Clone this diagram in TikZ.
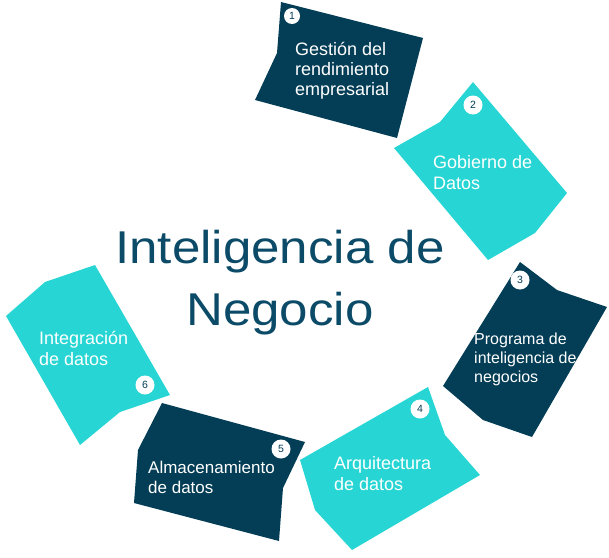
\documentclass[tikz,border=0pt]{standalone}
\usepackage{fontspec}
\setmainfont{Liberation Sans}
\newfontfamily\titlefont{Liberation Sans}[FakeStretch=1.11]
\definecolor{darkteal}{HTML}{043E56}
\definecolor{cyanish}{HTML}{27D6D4}
\definecolor{titlecol}{HTML}{0C4B68}
\begin{document}
\begin{tikzpicture}[x=1pt,y=-1pt,
  darkshape/.style={fill=darkteal,draw=none},
  cyanshape/.style={fill=cyanish,draw=none},
  label/.style={text=white,align=left,anchor=base west,inner sep=0pt,font=\fontsize{18}{20.5}\selectfont},
  numdot/.style={circle,fill=white,draw=none,inner sep=0pt,minimum size=19pt,text=darkteal,font=\fontsize{10.5}{10.5}\selectfont},
  title/.style={text=titlecol,align=center,inner sep=0pt,anchor=base,font=\titlefont\fontsize{46}{62}\selectfont}]
\useasboundingbox (0,0) rectangle (609,557);
% shapes
\fill[darkshape] (281,2) -- (423,38) -- (397,138) -- (255,100) -- (277,53) -- cycle;
\fill[cyanshape] (473,82) -- (567,193) -- (535,233) -- (488,260) -- (394,148) -- (440,122) -- cycle;
\fill[darkshape] (520,262) -- (557,290) -- (607,307) -- (532,437) -- (483,420) -- (443,386) -- cycle;
\fill[cyanshape] (428,387) -- (445,435) -- (480,475) -- (352,550) -- (315,510) -- (300,460) -- cycle;
\fill[darkshape] (162,403) -- (305,442) -- (283,488) -- (279,541) -- (134,503) -- (138,450) -- cycle;
\fill[cyanshape] (95,265) -- (170,395) -- (120,412) -- (80,445) -- (6,316) -- (45,282) -- cycle;
% numbers
\node[numdot,minimum size=16pt] (n1) at (292,16) {1};
\node[numdot] (n2) at (473,105) {2};
\node[numdot] (n3) at (520,280) {3};
\node[numdot] (n4) at (420,409) {4};
\node[numdot] (n5) at (281,449) {5};
\node[numdot] (n6) at (145,385) {6};
% labels (anchor = baseline of last line)
\node[label,font=\fontsize{18}{20}\selectfont] (t1) at (295,95) {Gestión del\\rendimiento\\empresarial};
\node[label,font=\fontsize{18}{21}\selectfont] (t2) at (433,189) {Gobierno de\\Datos};
\node[label,font=\fontsize{16}{19}\selectfont] (t3) at (474,382) {Programa de\\inteligencia de\\negocios};
\node[label,font=\fontsize{18}{21}\selectfont] (t4) at (334,490) {Arquitectura\\de datos};
\node[label,font=\fontsize{17}{20}\selectfont] (t5) at (148,493) {Almacenamiento\\de datos};
\node[label,font=\fontsize{18}{21}\selectfont] (t6) at (39,365) {Integración\\de datos};
% title
\node[title] (title) at (280,325) {Inteligencia de\\Negocio};
\end{tikzpicture}
\end{document}
